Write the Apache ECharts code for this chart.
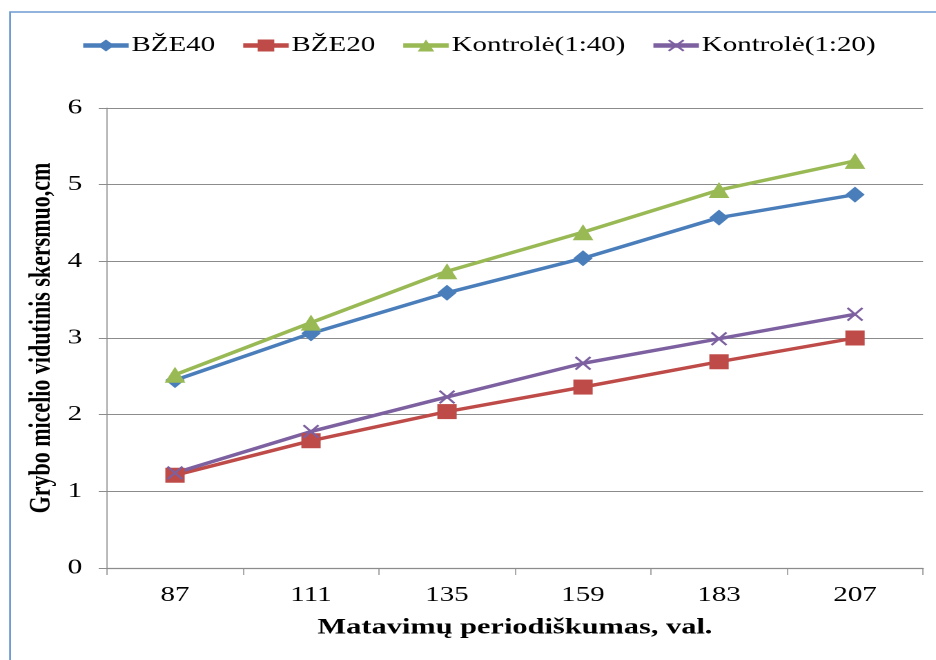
<!DOCTYPE html>
<html>
<head>
<meta charset="utf-8">
<script src="https://cdn.jsdelivr.net/npm/echarts@6/dist/echarts.min.js"></script>
<style>
html,body{margin:0;padding:0;background:#fff;overflow:hidden;}
/* the chart is laid out narrower and widened horizontally, giving the wide lettering */
#chart{width:678px;height:660px;transform:scaleX(1.3805);transform-origin:0 0;}
</style>
</head>
<body>
<div id="chart"></div>
<script>
// Measurement periods (hours)
const periods = ['87', '111', '135', '159', '183', '207'];
// Mean mycelium diameter, cm
const bze40 = [2.45, 3.06, 3.59, 4.04, 4.57, 4.87];
const bze20 = [1.21, 1.66, 2.04, 2.36, 2.69, 3.00];
const kontrole40 = [2.52, 3.20, 3.87, 4.38, 4.93, 5.31];
const kontrole20 = [1.24, 1.78, 2.23, 2.67, 2.99, 3.31];
const yTicks = [0, 1, 2, 3, 4, 5, 6];

const serif = '"Liberation Serif", "Times New Roman", serif';
const crossPath = 'path://M0,1 L1,0 L5,4 L9,0 L10,1 L6,5 L10,9 L9,10 L5,6 L1,10 L0,9 L4,5 Z';
const axisGray = '#8c8c8c';

function lineSeries(name, data, color, symbol, size) {
  return {
    name: name,
    type: 'line',
    data: data,
    symbol: symbol,
    symbolSize: size,
    showSymbol: true,
    lineStyle: { color: color, width: 3.4 },
    itemStyle: { color: color },
    emphasis: { disabled: true },
    animation: false,
    z: 3
  };
}

const chart = echarts.init(document.getElementById('chart'), null, { devicePixelRatio: 2 });
chart.setOption({
  backgroundColor: '#ffffff',
  graphic: [{
    type: 'rect',
    shape: { x: 7.3, y: 12, width: 700, height: 700 },
    style: { fill: 'none', stroke: '#6f9bd1', lineWidth: 1.4 },
    silent: true,
    z: 0
  }],
  legend: {
    top: 30,
    left: 53,
    itemWidth: 33,
    itemHeight: 15,
    itemGap: 18,
    lineStyle: { width: 4.5 },
    textStyle: { fontFamily: serif, fontSize: 21, color: '#000', padding: [0, 0, 0, -3] },
    data: ['BŽE40', 'BŽE20', 'Kontrolė(1:40)', 'Kontrolė(1:20)']
  },
  grid: { left: 77.5, right: 9.4, top: 108, bottom: 92, containLabel: false },
  xAxis: {
    type: 'category',
    data: periods,
    boundaryGap: true,
    name: 'Matavimų periodiškumas, val.',
    nameLocation: 'middle',
    nameGap: 49,
    nameTextStyle: { fontFamily: serif, fontSize: 22, fontWeight: 'bold', color: '#000' },
    axisLine: { lineStyle: { color: axisGray, width: 1.2 } },
    axisTick: { show: true, length: 7, lineStyle: { color: axisGray, width: 0.75 } },
    axisLabel: { fontFamily: serif, fontSize: 21, color: '#000', margin: 17 }
  },
  yAxis: {
    type: 'value',
    min: yTicks[0],
    max: yTicks[yTicks.length - 1],
    interval: 1,
    name: 'Grybo micelio vidutinis skersmuo,cm',
    nameLocation: 'middle',
    nameGap: 36,
    nameMoveOverlap: false,
    nameTextStyle: { fontFamily: serif, fontSize: 22, fontWeight: 'bold', color: '#000' },
    axisLine: { show: true, lineStyle: { color: axisGray, width: 0.75 } },
    axisTick: { show: true, length: 6, lineStyle: { color: axisGray, width: 1 } },
    axisLabel: { fontFamily: serif, fontSize: 21, color: '#000', margin: 18 },
    splitLine: { lineStyle: { color: axisGray, width: 1 } }
  },
  series: [
    lineSeries('BŽE40', bze40, '#4a7ebb', 'diamond', [14, 16]),
    lineSeries('BŽE20', bze20, '#be4b48', 'rect', [14, 15]),
    lineSeries('Kontrolė(1:40)', kontrole40, '#98b954', 'triangle', [15, 16]),
    lineSeries('Kontrolė(1:20)', kontrole20, '#7d60a0', crossPath, [12, 14])
  ]
});
</script>
</body>
</html>
